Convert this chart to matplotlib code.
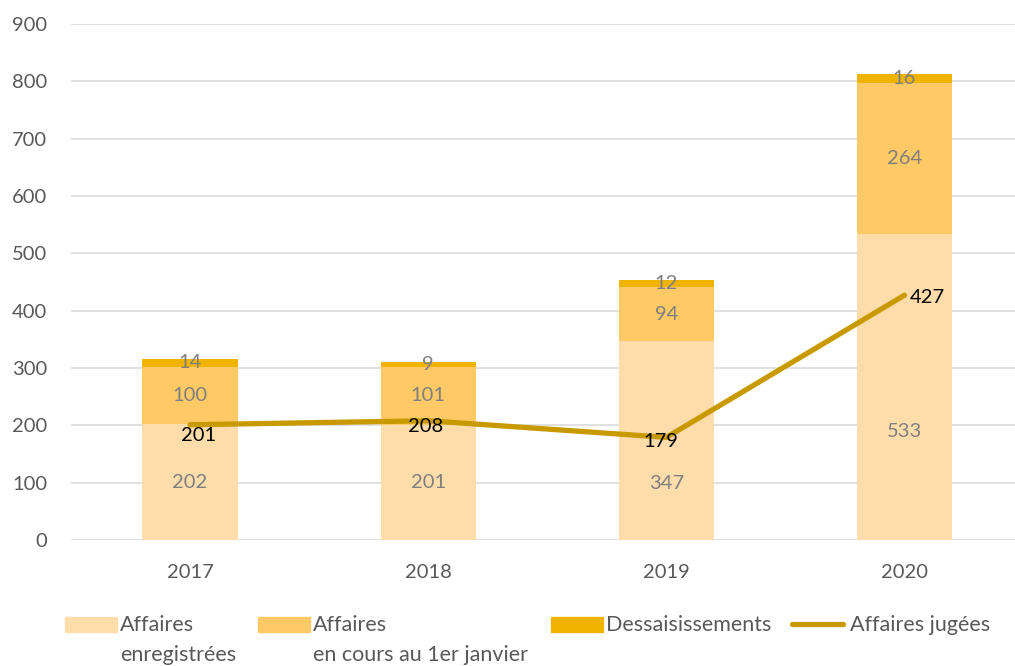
import matplotlib
matplotlib.use("Agg")
import matplotlib.pyplot as plt
from matplotlib.patches import Rectangle
from matplotlib.lines import Line2D

plt.rcParams['font.family'] = ['Lato', 'DejaVu Sans']

years = ["2017", "2018", "2019", "2020"]
enregistrees = [202, 201, 347, 533]
en_cours = [100, 101, 94, 264]
dessaisissements = [14, 9, 12, 16]
jugees = [201, 208, 179, 427]
yticks = [0, 100, 200, 300, 400, 500, 600, 700, 800, 900]

labels = ["Affaires\nenregistrées", "Affaires\nen cours au 1er janvier",
          "Dessaisissements", "Affaires jugées"]

c_enr = "#FFDDAA"
c_cours = "#FFC966"
c_dess = "#F0B400"
c_line = "#C99A00"
tick_col = "#595959"
lab_col = "#7F7F7F"
FS = 14.5
FSL = 15.5

W, H = 1015, 666
fig = plt.figure(figsize=(W / 100, H / 100), dpi=100)
ax = fig.add_axes([71 / W, (H - 540) / H, (W - 71) / W, (540 - 24) / H])
x = list(range(len(years)))
bw = 0.4

b1 = ax.bar(x, enregistrees, bw, color=c_enr, zorder=2)
b2 = ax.bar(x, en_cours, bw, bottom=enregistrees, color=c_cours, zorder=2)
bot3 = [a + b for a, b in zip(enregistrees, en_cours)]
b3 = ax.bar(x, dessaisissements, bw, bottom=bot3, color=c_dess, zorder=2)
ax.plot(x, jugees, color=c_line, lw=3.8, solid_capstyle='round', zorder=3)

# bar labels (enregistrées labels moved down where the line would cover them)
enr_shift = [0, 0, -43, -44]
for xi, v, s in zip(x, enregistrees, enr_shift):
    ax.annotate(str(v), (xi, v / 2), xytext=(0, s * 0.72), textcoords='offset points',
                ha='center', va='center', color=lab_col, fontsize=FS, zorder=4)
for bars, vals in ((b2, en_cours), (b3, dessaisissements)):
    ax.bar_label(bars, labels=[str(v) for v in vals], label_type='center',
                 color=lab_col, fontsize=FS, zorder=4)

offs = [(8, -11, 'center'), (-3, -6, 'center'), (-6, -4, 'center'), (5, -2, 'left')]
for xi, v, (dx, dy, ha) in zip(x, jugees, offs):
    ax.annotate(str(v), (xi, v), xytext=(dx * 0.72, dy * 0.72), textcoords='offset points',
                ha=ha, va='center', fontsize=FS, color='black', zorder=5)

ax.set_xlim(-0.5, 3.464)
ax.set_ylim(0, 900)
ax.set_yticks(yticks)
ax.set_xticks(x)
ax.set_xticklabels(years)
ax.tick_params(axis='both', length=0, labelsize=FS, colors=tick_col)
ax.tick_params(axis='y', pad=17)
ax.tick_params(axis='x', pad=17)
ax.yaxis.grid(True, color="#D9D9D9", lw=1.1, zorder=0)
ax.set_axisbelow(True)
for s in ax.spines.values():
    s.set_visible(False)

# legend (manual layout)
def px(xp, yp):
    return xp / W, 1 - yp / H

patch_specs = [(65, c_enr), (258, c_cours), (551, c_dess)]
for (x0, col), lab in zip(patch_specs, labels[:3]):
    fx, fy = px(x0, 632)
    fig.patches.append(Rectangle((fx, fy), 52 / W, 15 / H, transform=fig.transFigure,
                                 color=col, figure=fig))
    for i, ln in enumerate(lab.split("\n")):
        tx, ty = px(x0 + 55, 625 + 30 * i)
        fig.text(tx, ty, ln, ha='left', va='center', fontsize=FSL, color=tick_col)

l = Line2D([792 / W, 843 / W], [1 - 624 / H, 1 - 624 / H], transform=fig.transFigure,
           color=c_line, lw=3.8, solid_capstyle='round')
fig.lines.append(l)
tx, ty = px(850, 625)
fig.text(tx, ty, labels[3], ha='left', va='center', fontsize=FSL, color=tick_col)

fig.savefig("out.png", dpi=100)
